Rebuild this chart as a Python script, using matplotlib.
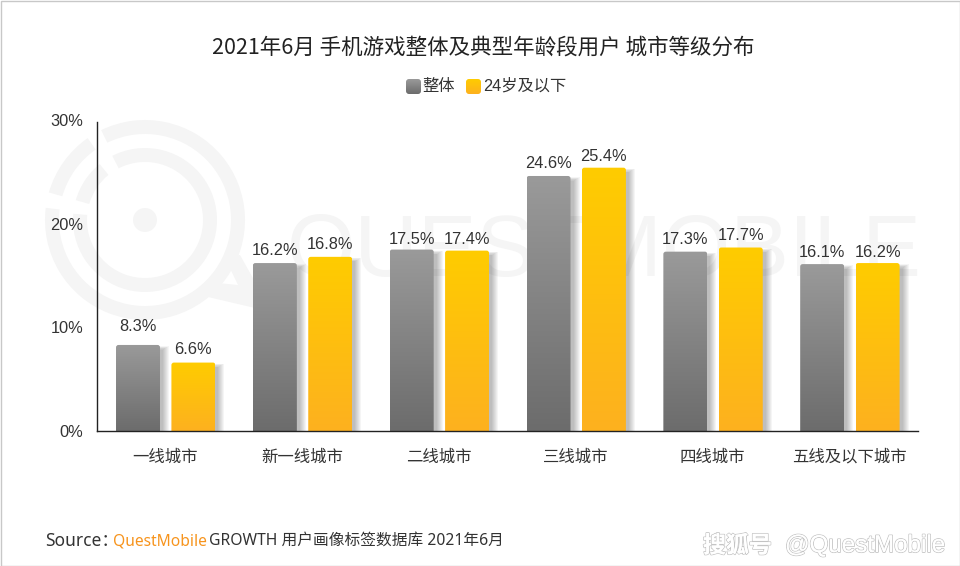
import numpy as np
import matplotlib
matplotlib.use('Agg')
import matplotlib.pyplot as plt
from matplotlib.patches import FancyBboxPatch, Wedge, Polygon, Circle, Rectangle
import matplotlib.patheffects as pe

categories = ['一线城市', '新一线城市', '二线城市', '三线城市', '四线城市', '五线及以下城市']
overall = [8.3, 16.2, 17.5, 24.6, 17.3, 16.1]
young = [6.6, 16.8, 17.4, 25.4, 17.7, 16.2]
series_names = ['整体', '24岁及以下']
yticks = [0, 10, 20, 30]
title = '2021年6月 手机游戏整体及典型年龄段用户 城市等级分布'

# label gap above each bar, in pixels
overall_gap = [18, 13, 10, 12, 12, 12]
young_gap = [13, 12, 11, 11, 12, 11]

FONT = ['Liberation Sans', 'Noto Sans CJK SC']
CJK = ['Noto Sans CJK SC', 'Liberation Sans']
NOTO = ['Noto Sans', 'Noto Sans CJK SC']
TXT = '#333333'
W, H = 960, 566
fig = plt.figure(figsize=(9.6, 5.66), dpi=100, facecolor='white')

# overlay in pixel units for watermark and page furniture
bg = fig.add_axes([0, 0, 1, 1], zorder=0)
bg.set_xlim(0, W); bg.set_ylim(0, H); bg.axis('off')
WM = '#f5f5f5'
cx, cy = 145, H - 220
def ring(r, w, a1, a2):
    bg.add_patch(Wedge((cx, cy), r, a1, a2, width=w, fc=WM, ec='none', zorder=1))
ring(100, 14, 173, 360 + 116)
ring(100, 14, 125, 164)
ring(72, 14, 175, 360 + 117)
ring(72, 14, 129, 164)
bg.add_patch(Circle((cx, cy), 12, fc=WM, ec='none', zorder=1))
bg.add_patch(Polygon([(225, H-258), (240, H-255), (272, H-312), (208, H-297), (208, H-282), (238, H-285)],
                     fc=WM, ec='none', zorder=1))
bg.text(287, H-254, 'QUESTMOBILE', fontsize=63.3, color=WM, family='Liberation Sans',
        va='center', ha='left', zorder=1)

AX_TOP = 120
ax = fig.add_axes([97/W, 1-431/H, (918-97)/W, (431-AX_TOP)/H], zorder=1)
ax.patch.set_alpha(0)
ax.set_xlim(-0.5, 5.5); ax.set_ylim(0, 30)
for s in ('top', 'right'):
    ax.spines[s].set_visible(False)
for s in ('left', 'bottom'):
    ax.spines[s].set_color('#222222'); ax.spines[s].set_linewidth(1.0); ax.spines[s].set_zorder(6)
ax.spines['left'].set_bounds(0, 29.8)
ax.set_yticks(yticks, [f'{t}%' for t in yticks], fontsize=11.8, color=TXT, family=FONT)
ax.set_xticks(range(len(categories)), categories, fontsize=11.8, color=TXT, family=FONT)
ax.tick_params(length=0)
ax.tick_params(axis='y', pad=10)
ax.tick_params(axis='x', pad=13)

px, py = 821/6, (431-AX_TOP)/30
bw, off, nudge = 44/px, 27.7/px, 0.3/px
grad = np.linspace(0, 1, 128)
def ramp(top, bot):
    t = np.array(matplotlib.colors.to_rgb(top)); b = np.array(matplotlib.colors.to_rgb(bot))
    return np.stack([t + (b - t) * g for g in grad])[:, None, :]
GRAY = ramp('#9a9a9a', '#6c6c6c')
GOLD = ramp('#ffcc00', '#fdb11f')
aspect = px / py

def draw(vals, gaps, sign, img):
    bars = ax.bar([i + sign * off + nudge for i in range(len(vals))], vals, bw, color='none', zorder=3)
    for b, v, g in zip(bars, vals, gaps):
        x0 = b.get_x(); w = b.get_width()
        # soft shadow, stacked translucent layers
        for k in range(7):
            ax.add_patch(Rectangle((x0 + 2 / px, 0), w + (k + 1) / px, v - (1 + 0.6 * (6 - k)) / py,
                                   fc='#000000', ec='none', alpha=0.04, zorder=2))
        clip = FancyBboxPatch((x0, -1), w, v + 1, boxstyle=f'round,pad=0,rounding_size={2.5/px}',
                              mutation_aspect=aspect, fc='none', ec='none', transform=ax.transData)
        ax.add_patch(clip)
        im = ax.imshow(img, extent=(x0, x0 + w, 0, v), aspect='auto', zorder=4, interpolation='bilinear')
        im.set_clip_path(clip)
        ax.text(x0 + w / 2, v + g / py, f'{v:.1f}%', ha='center', va='center', fontsize=11.8,
                color=TXT, family=FONT, zorder=5)
draw(overall, overall_gap, -1, GRAY)
draw(young, young_gap, 1, GOLD)
ax.set_xlim(-0.5, 5.5); ax.set_ylim(0, 30)

# title and legend
fg = fig.add_axes([0, 0, 1, 1], zorder=2)
fg.set_xlim(0, W); fg.set_ylim(0, H); fg.axis('off'); fg.patch.set_alpha(0)
fg.text(483.5, H-48, title, ha='center', va='center', fontsize=15.5, color='#222222', family=CJK)
for x, img, name, tx in [(406, GRAY, series_names[0], 422), (466, GOLD, series_names[1], 483)]:
    clip = FancyBboxPatch((x, H-94), 15, 15, boxstyle='round,pad=0,rounding_size=3', fc='none', ec='none')
    fg.add_patch(clip)
    im = fg.imshow(img, extent=(x, x+15, H-94, H-79), aspect='auto', interpolation='bilinear')
    im.set_clip_path(clip)
    fg.text(tx, H-86, name, ha='left', va='center', fontsize=11.7, color=TXT, family=FONT)
fg.set_xlim(0, W); fg.set_ylim(0, H)

# footer
fg.text(45, H-541, 'Source：', ha='left', va='center', fontsize=12.5, color='#333333', family=NOTO)
fg.text(113, H-541, 'QuestMobile', ha='left', va='center', fontsize=11.2, color='#f7941d', family=NOTO)
fg.text(209, H-541, 'GROWTH 用户画像标签数据库 2021年6月', ha='left', va='center', fontsize=11.3,
        color='#333333', family=NOTO)
sh = [pe.withStroke(linewidth=1.2, foreground='#c4c4c4'), pe.Normal()]
fg.text(703, H-546, '搜狐号', ha='left', va='center', fontsize=16.5, weight='bold',
        color='white', family=['Noto Sans CJK SC'], path_effects=sh)
fg.text(785, H-546, '@QuestMobile', ha='left', va='center', fontsize=17.4, color='white',
        family='Liberation Sans', path_effects=sh)
fg.add_patch(Rectangle((0.5, 0.5), W-1, H-1, fc='none', ec='#c8c8c8', lw=1))

fig.savefig('out.png', dpi=100)
